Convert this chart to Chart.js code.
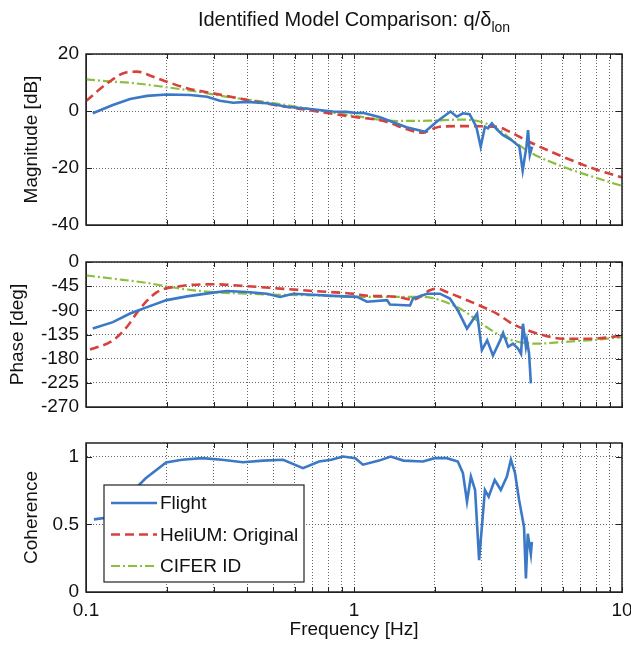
<!DOCTYPE html>
<html>
<head>
<meta charset="utf-8">
<script src="https://cdn.jsdelivr.net/npm/chart.js@4.4.0/dist/chart.umd.min.js"></script>
<style>
  body { margin: 0; background: #fff; width: 631px; height: 652px; position: relative; overflow: hidden; }
  #title {
    position: absolute; left: 86px; width: 536px; top: 8px; text-align: center;
    font-family: "Liberation Sans", Arial, sans-serif;
    font-size: 20px; line-height: 22px; color: #111; z-index: 2;
  }
  #title sub { font-size: 14px; vertical-align: -6px; line-height: 0; }
  canvas { position: absolute; left: 0; }
</style>
</head>
<body>
<div id="title">Identified Model Comparison: q/δ<sub>lon</sub></div>
<canvas id="mag" width="631" height="240" style="top:0"></canvas>
<canvas id="phase" width="631" height="180" style="top:240px"></canvas>
<canvas id="coh" width="631" height="232" style="top:420px"></canvas>
<script>
// frequency axis ticks (log decades) and labelled ones
const freqTicks = [0.1, 0.2, 0.3, 0.4, 0.5, 0.6, 0.7, 0.8, 0.9, 1, 2, 3, 4, 5, 6, 7, 8, 9, 10];
const freqLabels = [0.1, 1, 10];
const cohTicks = [0, 0.5, 1];

// magnitude [dB]
const flightMagFreq = [0.106, 0.126, 0.146, 0.169, 0.2, 0.245, 0.283, 0.316, 0.354, 0.398, 0.473, 0.563, 0.70, 0.833, 0.94, 1.02, 1.08, 1.25, 1.57, 1.84, 2.04, 2.29, 2.42, 2.55, 2.70, 2.86, 2.97, 3.08, 3.16, 3.27, 3.41, 3.59, 3.87, 4.14, 4.26, 4.40, 4.46, 4.53, 4.62];
const flightMag = [-0.8, 2.1, 4.2, 5.3, 5.8, 5.6, 5.0, 3.6, 2.9, 3.2, 2.7, 1.5, 0.6, -0.2, -0.3, -0.7, -0.6, -2.2, -5.7, -7.3, -3.7, -0.2, -2.0, -0.8, -1.1, -5.5, -12.5, -5.5, -6.1, -4.3, -6.4, -8.4, -10.2, -12.5, -20.9, -12.5, -6.7, -15.4, -12.5];
const heliumMagFreq = [0.1, 0.12, 0.142, 0.155, 0.178, 0.2, 0.238, 0.298, 0.398, 0.53, 0.70, 1.02, 1.25, 1.82, 1.92, 2.09, 2.55, 3.41, 3.81, 4.5, 6.0, 8.1, 10];
const heliumMag = [3.5, 9.7, 13.6, 13.8, 12.0, 10.3, 8.0, 6.2, 3.9, 1.8, 0.1, -2.2, -3.2, -7.6, -6.7, -5.5, -5.3, -5.5, -7.3, -10.8, -16, -20.7, -23.3];
const ciferMagFreq = [0.1, 0.126, 0.146, 0.194, 0.26, 0.345, 0.458, 0.61, 0.81, 1.02, 1.45, 1.92, 2.55, 2.94, 3.41, 3.9, 4.5, 6.0, 8.1, 10];
const ciferMag = [11.1, 10.3, 9.9, 8.5, 6.8, 4.8, 3.3, 1.5, -0.4, -1.8, -3.5, -3.4, -3.0, -3.7, -6.1, -10.2, -14.3, -19.5, -23.6, -26.3];

// phase [deg]
const flightPhaseFreq = [0.106, 0.126, 0.146, 0.169, 0.2, 0.238, 0.298, 0.336, 0.398, 0.473, 0.53, 0.593, 0.703, 0.835, 1.026, 1.118, 1.328, 1.362, 1.618, 1.66, 1.872, 2.094, 2.28, 2.44, 2.64, 2.88, 3.0, 3.14, 3.30, 3.51, 3.6, 3.76, 3.92, 4.09, 4.2, 4.27, 4.38, 4.42, 4.5, 4.57];
const flightPhase = [-124, -112, -96, -84, -71, -64, -57, -54, -56, -59, -65, -59, -61, -63, -65, -74, -71, -79, -81, -68, -59, -59, -68, -90, -124, -96, -164, -146, -174, -146, -132, -158, -152, -161, -171, -115, -158, -146, -170, -226];
const heliumPhaseFreq = [0.1035, 0.126, 0.142, 0.159, 0.184, 0.224, 0.298, 0.398, 0.53, 0.703, 1.026, 1.08, 1.446, 1.66, 1.92, 2.04, 2.22, 2.55, 2.94, 3.41, 3.9, 4.5, 5.25, 6.0, 7.6, 9.8];
const heliumPhase = [-163, -146, -121, -87, -56, -45, -41.5, -45, -49.5, -54, -60, -62, -65, -70, -52.7, -49.5, -56, -68, -81, -96, -115, -128, -138, -143, -143, -138];
const ciferPhaseFreq = [0.1, 0.126, 0.169, 0.224, 0.298, 0.398, 0.53, 0.703, 1.026, 1.446, 1.82, 2.094, 2.55, 2.94, 3.41, 3.9, 4.82, 6.0, 8.1, 10];
const ciferPhase = [-25, -31, -39, -49.5, -56, -59, -61, -62, -65, -65, -65, -71, -90, -112, -133, -146, -152, -149, -144.5, -140];

// coherence
const cohFreq = [0.107, 0.127, 0.151, 0.167, 0.199, 0.228, 0.271, 0.321, 0.385, 0.458, 0.544, 0.645, 0.741, 0.822, 0.911, 1.01, 1.08, 1.24, 1.37, 1.53, 1.81, 2.0, 2.22, 2.44, 2.55, 2.64, 2.73, 2.83, 2.93, 3.08, 3.18, 3.35, 3.53, 3.72, 3.85, 3.99, 4.13, 4.31, 4.38, 4.45, 4.57, 4.61];
const coherence = [0.536, 0.556, 0.753, 0.84, 0.956, 0.976, 0.988, 0.976, 0.958, 0.97, 0.976, 0.914, 0.963, 0.976, 1.0, 0.988, 0.94, 0.97, 1.0, 0.97, 0.963, 0.988, 0.988, 0.963, 0.877, 0.667, 0.852, 0.753, 0.235, 0.753, 0.704, 0.827, 0.753, 0.852, 0.976, 0.877, 0.68, 0.48, 0.1, 0.43, 0.28, 0.37];

const FONT = '"Liberation Sans", Arial, sans-serif';
const tickFont = { family: FONT, size: 19 };
const titleFont = { family: FONT, size: 19 };

const pts = (xs, ys) => xs.map((x, i) => ({ x: x, y: ys[i] }));

const flightStyle = { label: "Flight", borderColor: "#3b78c6", borderWidth: 2.6, pointRadius: 0, tension: 0 };
const heliumStyle = { label: "HeliUM: Original", borderColor: "#d8403b", borderWidth: 2.6, borderDash: [9, 5], pointRadius: 0, cubicInterpolationMode: "monotone" };
const ciferStyle = { label: "CIFER ID", borderColor: "#8cbf3f", borderWidth: 2.2, borderDash: [9, 3, 2, 3], pointRadius: 0, cubicInterpolationMode: "monotone" };

// box around the axes with small inward ticks, like matlab
const framePlugin = {
  id: "frame",
  afterDraw(chart) {
    const { ctx, chartArea: a, scales } = chart;
    ctx.save();
    ctx.strokeStyle = "#222";
    ctx.lineWidth = 1;
    ctx.beginPath();
    scales.x.ticks.forEach(t => {
      const px = Math.round(scales.x.getPixelForValue(t.value)) + 0.5;
      ctx.moveTo(px, a.top); ctx.lineTo(px, a.top + 5);
      ctx.moveTo(px, a.bottom); ctx.lineTo(px, a.bottom - 5);
    });
    scales.y.ticks.forEach(t => {
      const py = Math.round(scales.y.getPixelForValue(t.value)) + 0.5;
      ctx.moveTo(a.left, py); ctx.lineTo(a.left + 6, py);
      ctx.moveTo(a.right, py); ctx.lineTo(a.right - 6, py);
    });
    ctx.stroke();
    ctx.lineWidth = 1.5;
    ctx.strokeRect(a.left, a.top, a.right - a.left, a.bottom - a.top);
    ctx.restore();
  }
};

// legend box drawn inside the coherence axes
const boxLegend = {
  id: "boxLegend",
  afterDraw(chart) {
    const { ctx, chartArea: a } = chart;
    const x0 = a.left + 18, y0 = a.top + 42, w = 200, h = 97;
    ctx.save();
    ctx.fillStyle = "#fff";
    ctx.fillRect(x0, y0, w, h);
    ctx.strokeStyle = "#222";
    ctx.lineWidth = 1.2;
    ctx.strokeRect(x0, y0, w, h);
    ctx.font = "19px " + FONT;
    ctx.textBaseline = "middle";
    chart.data.datasets.forEach((ds, i) => {
      const y = y0 + 18 + i * 31.5;
      ctx.strokeStyle = ds.borderColor;
      ctx.lineWidth = ds.borderWidth;
      ctx.setLineDash(ds.borderDash || []);
      ctx.beginPath();
      ctx.moveTo(x0 + 7, y);
      ctx.lineTo(x0 + 53, y);
      ctx.stroke();
      ctx.setLineDash([]);
      ctx.fillStyle = "#111";
      ctx.fillText(ds.label, x0 + 56, y + 1);
    });
    ctx.restore();
  }
};

function xAxis(showLabels, height) {
  return {
    type: "logarithmic",
    min: 0.1,
    max: 10,
    afterBuildTicks: s => { s.ticks = freqTicks.map(v => ({ value: v })); },
    afterFit: s => { s.height = height; s.paddingLeft = 0; s.paddingRight = 0; },
    ticks: {
      display: showLabels,
      autoSkip: false,
      maxRotation: 0,
      font: tickFont,
      color: "#111",
      padding: 7,
      callback: v => (freqLabels.includes(v) ? String(v) : "")
    },
    grid: { color: "#666", lineWidth: 1, drawTicks: false },
    border: { color: "#222", dash: [1, 2] },
    title: {
      display: showLabels,
      text: "Frequency [Hz]",
      font: titleFont,
      color: "#111",
      padding: { top: 0, bottom: 11 }
    }
  };
}

// titleOffset: gap from canvas edge to the rotated title
function yAxis(min, max, step, title, titleOffset, tickList) {
  const ax = {
    min: min,
    max: max,
    afterFit: s => { s.width = 86; s.paddingTop = 0; s.paddingBottom = 0; },
    ticks: { stepSize: step, autoSkip: false, font: tickFont, color: "#111", padding: 7, callback: v => String(v) },
    grid: { color: "#666", lineWidth: 1, drawTicks: false },
    border: { color: "#222", dash: [1, 2] },
    title: { display: true, text: title, font: titleFont, color: "#111", padding: { top: titleOffset, bottom: 0 } }
  };
  if (tickList) ax.afterBuildTicks = s => { s.ticks = tickList.map(v => ({ value: v })); };
  return ax;
}

function makeChart(id, datasets, x, y, padding, plugins) {
  return new Chart(document.getElementById(id), {
    type: "line",
    data: { datasets: datasets },
    options: {
      responsive: false,
      animation: false,
      layout: { padding: padding },
      scales: { x: x, y: y },
      plugins: { legend: { display: false }, tooltip: { enabled: false } }
    },
    plugins: plugins
  });
}

makeChart("mag", [
  Object.assign({ data: pts(flightMagFreq, flightMag) }, flightStyle),
  Object.assign({ data: pts(heliumMagFreq, heliumMag) }, heliumStyle),
  Object.assign({ data: pts(ciferMagFreq, ciferMag) }, ciferStyle)
], xAxis(false, 0), yAxis(-40, 20, 20, "Magnitude [dB]", 20), { top: 54, bottom: 15, left: 0, right: 9 }, [framePlugin]);

makeChart("phase", [
  Object.assign({ data: pts(flightPhaseFreq, flightPhase) }, flightStyle),
  Object.assign({ data: pts(heliumPhaseFreq, heliumPhase) }, heliumStyle),
  Object.assign({ data: pts(ciferPhaseFreq, ciferPhase) }, ciferStyle)
], xAxis(false, 0), yAxis(-270, 0, 45, "Phase [deg]", 6), { top: 22, bottom: 13, left: 0, right: 9 }, [framePlugin]);

makeChart("coh", [
  Object.assign({ data: pts(cohFreq, coherence) }, flightStyle),
  Object.assign({ data: [] }, heliumStyle),
  Object.assign({ data: [] }, ciferStyle)
], xAxis(true, 60), yAxis(0, 1.1, 0.5, "Coherence", 20, cohTicks), { top: 23, bottom: 0, left: 0, right: 9 }, [framePlugin, boxLegend]);
</script>
</body>
</html>
